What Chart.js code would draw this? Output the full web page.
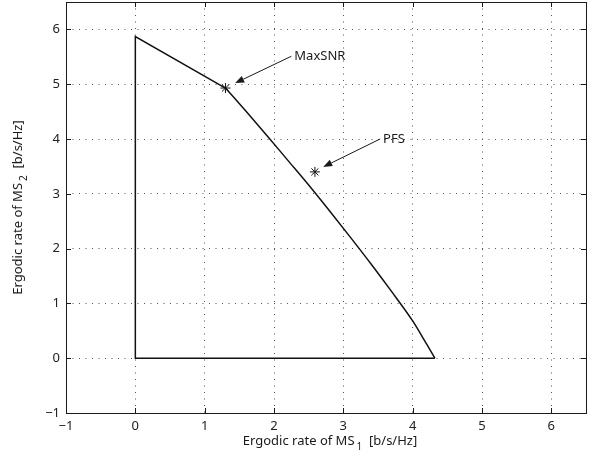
<!DOCTYPE html>
<html><head><meta charset="utf-8">
<script src="https://cdn.jsdelivr.net/npm/chart.js@4/dist/chart.umd.min.js"></script>
<style>html,body{margin:0;padding:0;background:#fff}#wrap{width:602px;height:462px}</style>
</head><body><div id="wrap"><canvas id="c" width="602" height="462"></canvas></div>
<script>
// Straight edges of the rate region
const edgeX = [4.32, 0, 0, 1.3];
const edgeY = [0, 0, 5.87, 4.93];
// Curved frontier of the rate region
const frontierX = [1.3, 1.6, 1.9, 2.2, 2.5, 2.8, 3.1, 3.4, 3.7, 4.0, 4.2, 4.32];
const frontierY = [4.93, 4.50, 4.06, 3.61, 3.16, 2.69, 2.21, 1.72, 1.21, 0.68, 0.26, 0];
// Operating points
const schemeNames = ['MaxSNR', 'PFS'];
const schemeX = [1.3, 2.59];
const schemeY = [4.93, 3.40];
// Annotation label anchors and arrow tips (data units)
const labelX = [2.25, 3.53];
const labelY = [5.51, 4.0];
const tipX = [1.44, 2.71];
const tipY = [5.02, 3.49];
// Axes
const xTicks = [-1, 0, 1, 2, 3, 4, 5, 6];
const yTicks = [-1, 0, 1, 2, 3, 4, 5, 6];
const xMin = -1, xMax = 6.5, yMin = -1, yMax = 6.5;

const FONT = '"Noto Sans", "Open Sans", sans-serif';

const edgeData = edgeX.map((x, i) => ({x, y: edgeY[i]}));
const frontierData = frontierX.map((x, i) => ({x, y: frontierY[i]}));
const pointData = schemeX.map((x, i) => ({x, y: schemeY[i]}));

const decor = {
  id: 'decor',
  afterDraw(chart) {
    const {ctx, chartArea: a, scales: {x, y}} = chart;
    ctx.save();
    // box
    ctx.strokeStyle = '#1a1a1a';
    ctx.lineWidth = 1;
    ctx.setLineDash([]);
    ctx.strokeRect(Math.round(a.left) + 0.5, Math.round(a.top) + 0.5,
      Math.round(a.right - a.left), Math.round(a.bottom - a.top));
    // inward ticks
    const tl = 5;
    ctx.beginPath();
    xTicks.forEach(v => {
      const px = Math.round(x.getPixelForValue(v)) + 0.5;
      ctx.moveTo(px, a.bottom); ctx.lineTo(px, a.bottom - tl);
      ctx.moveTo(px, a.top); ctx.lineTo(px, a.top + tl);
    });
    yTicks.forEach(v => {
      const py = Math.round(y.getPixelForValue(v)) + 0.5;
      ctx.moveTo(a.left, py); ctx.lineTo(a.left + tl, py);
      ctx.moveTo(a.right, py); ctx.lineTo(a.right - tl, py);
    });
    ctx.stroke();
    // annotations
    ctx.fillStyle = '#1a1a1a';
    ctx.strokeStyle = '#1a1a1a';
    schemeNames.forEach((name, i) => {
      const sx = x.getPixelForValue(labelX[i]);
      const sy = y.getPixelForValue(labelY[i]);
      const ex = x.getPixelForValue(tipX[i]);
      const ey = y.getPixelForValue(tipY[i]);
      const ang = Math.atan2(ey - sy, ex - sx);
      const hl = 9, hw = 3.5;
      const bx = ex - hl * Math.cos(ang), by = ey - hl * Math.sin(ang);
      ctx.lineWidth = 1;
      ctx.beginPath(); ctx.moveTo(sx, sy); ctx.lineTo(bx, by); ctx.stroke();
      ctx.beginPath();
      ctx.moveTo(ex, ey);
      ctx.lineTo(bx + hw * Math.sin(ang), by - hw * Math.cos(ang));
      ctx.lineTo(bx - hw * Math.sin(ang), by + hw * Math.cos(ang));
      ctx.closePath(); ctx.fill();
      ctx.font = '13px ' + FONT;
      ctx.textAlign = 'left'; ctx.textBaseline = 'middle';
      ctx.fillText(name, sx + 3, sy);
    });
    // axis titles with subscripts
    const drawTitle = (main, sub, rest, cx, cy, rot) => {
      ctx.save();
      ctx.translate(cx, cy);
      ctx.rotate(rot);
      ctx.textBaseline = 'alphabetic';
      ctx.textAlign = 'left';
      ctx.font = '13px ' + FONT;
      const w1 = ctx.measureText(main).width;
      const w3 = ctx.measureText(rest).width;
      ctx.font = '10px ' + FONT;
      const w2 = ctx.measureText(sub).width + 2;
      const tot = w1 + w2 + w3;
      let px = -tot / 2;
      ctx.font = '13px ' + FONT;
      ctx.fillText(main, px, 4);
      px += w1 + 2;
      ctx.font = '10px ' + FONT;
      ctx.fillText(sub, px, 9);
      px += w2 - 2;
      ctx.font = '13px ' + FONT;
      ctx.fillText(rest, px, 4);
      ctx.restore();
    };
    const cxm = (a.left + a.right) / 2, cym = (a.top + a.bottom) / 2;
    drawTitle('Ergodic rate of MS', '1', '  [b/s/Hz]', cxm + 4, 441, 0);
    drawTitle('Ergodic rate of MS', '2', '  [b/s/Hz]', 18, cym, -Math.PI / 2);
    ctx.restore();
  }
};

new Chart(document.getElementById('c'), {
  type: 'scatter',
  data: {
    datasets: [
      {
        data: edgeData, showLine: true, borderColor: '#111', borderWidth: 1.5,
        pointRadius: 0, tension: 0, fill: false
      },
      {
        data: frontierData, showLine: true, borderColor: '#111', borderWidth: 1.5,
        pointRadius: 0, cubicInterpolationMode: 'monotone', fill: false
      },
      {
        data: pointData, showLine: false, pointStyle: 'star', pointRadius: 5,
        borderColor: '#111', backgroundColor: '#111', pointBorderWidth: 1, pointHoverRadius: 5
      }
    ]
  },
  options: {
    responsive: false, animation: false, devicePixelRatio: 1,
    layout: {autoPadding: false, padding: {left: 0, right: 16, top: 2, bottom: 0}},
    plugins: {legend: {display: false}, tooltip: {enabled: false}},
    events: [],
    scales: {
      x: {
        type: 'linear', min: xMin, max: xMax,
        afterBuildTicks: s => { s.ticks = xTicks.map(v => ({value: v})); },
        afterFit: s => { s.height = 49; s.paddingLeft = 0; s.paddingRight = 0; },
        grid: {color: '#555', lineWidth: 1, drawTicks: false},
        border: {display: false, dash: [1, 5.5]},
        ticks: {padding: 5, color: '#222', font: {family: FONT, size: 13},
          callback: v => (v < 0 ? '\u2212' + Math.abs(v) : '' + v)}
      },
      y: {
        type: 'linear', min: yMin, max: yMax,
        afterBuildTicks: s => { s.ticks = yTicks.map(v => ({value: v})); },
        afterFit: s => { s.width = 66; s.paddingTop = 0; s.paddingBottom = 0; },
        grid: {color: '#555', lineWidth: 1, drawTicks: false},
        border: {display: false, dash: [1, 5.5]},
        ticks: {padding: 6, color: '#222', font: {family: FONT, size: 13},
          callback: v => (v < 0 ? '\u2212' + Math.abs(v) : '' + v)}
      }
    }
  },
  plugins: [decor]
});
</script></body></html>
